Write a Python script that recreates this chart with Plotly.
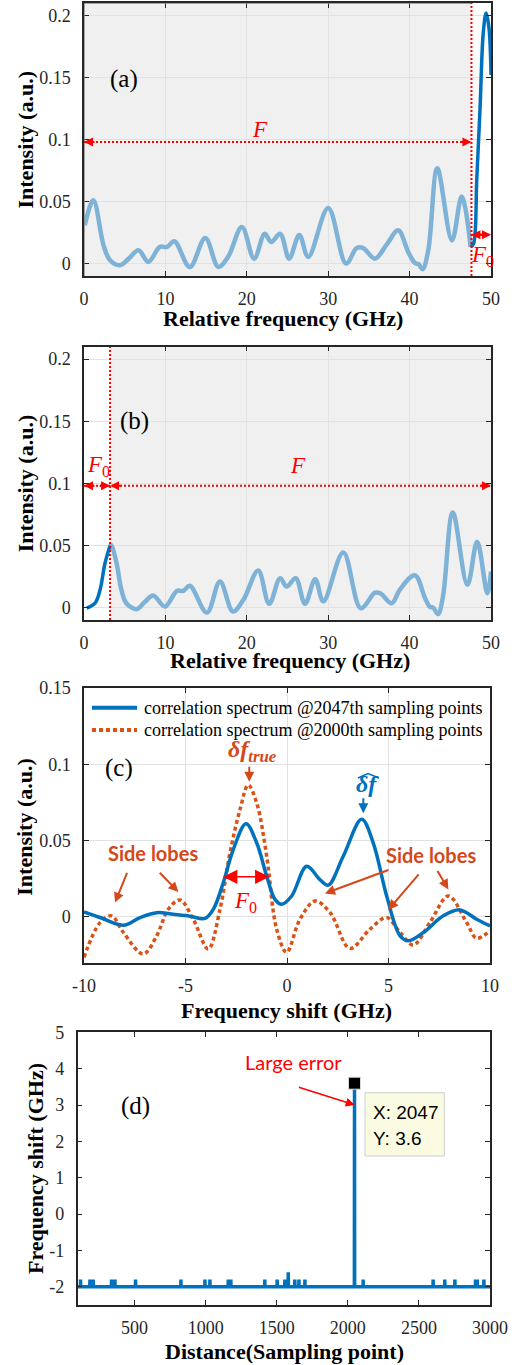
import plotly.graph_objects as go

W, H = 522, 1365

# ---------------- Data ----------------
# Panel (a)
a_light_x = [0.1, 1.15, 2.4, 3.2, 4.4, 5.5, 6.7, 7.9, 9.3, 10.2, 11.1, 13.0, 14.9, 16.5, 17.7, 19.4,
             20.9, 22.2, 23.0, 24.1, 25.2, 26.45, 27.55, 30.0, 32.2, 33.5, 34.3, 35.75, 37.2, 38.6,
             39.85, 40.65, 41.1, 41.6, 42.3, 43.4, 45.2, 46.4, 47.5]
a_light_y = [0.031, 0.051, 0.0147, 0.0027, -0.0013, 0.004, 0.0107, 0.0013, 0.0134, 0.0134, 0.018,
             -0.0027, 0.0206, -0.0027, 0.0054, 0.0295, 0.004, 0.024, 0.0174, 0.024, 0.004, 0.023,
             0.0054, 0.0447, 0.0, 0.0125, 0.0125, 0.004, 0.0155, 0.0268, 0.009, 0.0005, -0.0005,
             -0.0045, 0.011, 0.0768, 0.0187, 0.054, 0.0134]
a_dark_x = [47.5, 47.85, 48.25, 48.65, 49.05, 49.4, 49.75, 50.0]
a_dark_y = [0.0135, 0.016, 0.068, 0.1245, 0.186, 0.202, 0.19, 0.152]
a_split = 47.6

# Panel (b)
b_dark_x = [0.33, 1.35, 1.97, 2.58, 3.2]
b_dark_y = [-0.0005, 0.0035, 0.0142, 0.0357, 0.0500]
b_light_x = [3.2, 3.35, 4.0, 4.6, 5.2, 6.46, 7.4, 8.5, 9.95, 11.4, 12.2, 13.0, 15.1, 16.7, 18.3, 19.6,
             21.4, 22.75, 24.1, 24.9, 26.0, 27.15, 28.4, 29.4, 31.85, 34.0, 35.75, 36.4, 37.8, 38.8,
             40.65, 41.9, 42.5, 42.9, 43.5, 44.1, 45.3, 47.1, 48.3, 49.55, 50.0]
b_light_y = [0.0497, 0.0505, 0.0357, 0.0142, 0.0035, -0.0013, 0.004, 0.0097, 0.0008, 0.0134, 0.0134,
             0.0175, -0.004, 0.021, -0.0032, 0.0065, 0.0298, 0.003, 0.0237, 0.0169, 0.0237, 0.003,
             0.0228, 0.005, 0.0443, -0.0005, 0.012, 0.0115, 0.0035, 0.0145, 0.026, 0.0075, 0.0005,
             0.0, -0.0053, 0.0088, 0.0765, 0.0183, 0.053, 0.0116, 0.029]
b_split = 3.2

# Panel (c)
c_blue_x = [-10.0, -9.21, -8.06, -7.24, -6.42, -5.6, -4.78, -4.04, -3.63, -3.14, -2.65, -2.02, -1.49,
            -1.0, -0.59, -0.26, 0.23, 0.97, 1.62, 2.03, 2.77, 3.68, 4.25, 4.91, 5.57, 5.98, 6.72, 7.7,
            8.52, 9.34, 10.0]
c_blue_y = [0.0033, -0.0004, -0.0054, -0.0004, 0.0028, 0.0017, 0.0005, -0.001, 0.005, 0.0224, 0.044,
            0.061, 0.0484, 0.0267, 0.0115, 0.0083, 0.0137, 0.0332, 0.0245, 0.0208, 0.0397, 0.064,
            0.0484, 0.0137, -0.0124, -0.0156, -0.0102, 0.0007, 0.0046, -0.0015, -0.0059]
c_orange_x = [-10.0, -9.21, -8.64, -8.06, -7.08, -6.42, -5.85, -5.27, -4.62, -3.88, -3.3, -2.81, -2.32,
              -1.91, -1.49, -1.0, -0.51, -0.02, 0.64, 1.38, 2.12, 3.1, 4.09, 4.91, 5.57, 6.22, 7.04,
              7.95, 8.85, 9.34, 10.0]
c_orange_y = [-0.0265, -0.0037, 0.0007, -0.0102, -0.0243, -0.0124, 0.005, 0.0111, -0.0015, -0.021,
              0.005, 0.042, 0.07, 0.0864, 0.0745, 0.0397, -0.008, -0.0232, -0.0015, 0.0104, 0.0029,
              -0.0206, -0.008, -0.0004, -0.0102, -0.0184, -0.0037, 0.0137, -0.0037, -0.014, -0.009]
c_legend = ["correlation spectrum @2047th sampling points",
            "correlation spectrum @2000th sampling points"]

# Panel (d)
d_start, d_end = 100, 3000
d_base = -2.0
d_blip_x = [120, 186, 209, 338, 362, 507, 826, 995, 1030, 1159, 1177, 1416, 1503, 1557, 1581,
            1627, 1656, 1698, 2108, 2600, 2682, 2753, 2898, 2910, 2957]
d_blip_y = [-1.8, -1.8, -1.8, -1.8, -1.8, -1.8, -1.8, -1.8, -1.8, -1.8, -1.8, -1.8, -1.8, -1.8, -1.6,
            -1.8, -1.8, -1.8, -1.8, -1.8, -1.8, -1.8, -1.8, -1.8, -1.8]
d_spike_x = 2047
d_spike_y = 3.6

# ---------------- Styles ----------------
LIGHT = "#7EB2D6"
DARK = "#0072BD"
ORANGE = "#D95319"
ANN = "#D4481A"
RED = "#ff0000"
SERIF = "Liberation Serif"
SANS = "Lato"


def px(x):
    return x / W


def py(y):
    return 1 - y / H


fig = go.Figure()

# (a)
fig.add_trace(go.Scatter(x=a_light_x, y=a_light_y, mode="lines", xaxis="x", yaxis="y",
                         line=dict(color=LIGHT, width=4.5, shape="spline"), showlegend=False))
fig.add_trace(go.Scatter(x=a_dark_x, y=a_dark_y, mode="lines", xaxis="x", yaxis="y",
                         line=dict(color=DARK, width=3.5, shape="spline"), showlegend=False))
# (b)
fig.add_trace(go.Scatter(x=b_light_x, y=b_light_y, mode="lines", xaxis="x2", yaxis="y2",
                         line=dict(color=LIGHT, width=4.5, shape="spline"), showlegend=False))
fig.add_trace(go.Scatter(x=b_dark_x, y=b_dark_y, mode="lines", xaxis="x2", yaxis="y2",
                         line=dict(color=DARK, width=3.5, shape="spline"), showlegend=False))
# (c)
fig.add_trace(go.Scatter(x=c_orange_x, y=c_orange_y, mode="lines", xaxis="x3", yaxis="y3",
                         line=dict(color=ORANGE, width=3.5, shape="spline", dash="4px,3px"),
                         name=c_legend[1], showlegend=False))
fig.add_trace(go.Scatter(x=c_blue_x, y=c_blue_y, mode="lines", xaxis="x3", yaxis="y3",
                         line=dict(color=DARK, width=3.5, shape="spline"),
                         name=c_legend[0], showlegend=False))
# (d)
dx = [d_start]
dy = [d_base]
events = sorted(list(zip(d_blip_x, d_blip_y)) + [(d_spike_x, d_spike_y)])
for bx, by in events:
    dx += [bx - 1, bx, bx + 1]
    dy += [d_base, by, d_base]
dx.append(d_end)
dy.append(d_base)
fig.add_trace(go.Scatter(x=dx, y=dy, mode="lines", xaxis="x4", yaxis="y4",
                         line=dict(color=DARK, width=3.5), showlegend=False))
fig.add_trace(go.Scatter(x=[d_spike_x], y=[d_spike_y], mode="markers", xaxis="x4", yaxis="y4",
                         marker=dict(symbol="square", size=12, color="black",
                                     line=dict(color="#d8d8d8", width=1)), showlegend=False))

axis_common = dict(showline=True, linecolor="#262626", linewidth=1.5, mirror="allticks",
                   ticks="inside", ticklen=5, tickwidth=1.3, tickcolor="#262626",
                   tickfont=dict(family=SERIF, size=18, color="#262626"),
                   zeroline=False, gridcolor="#e2e2e2", gridwidth=1, automargin=False)

dom_x = [px(84), px(491)]
fig.update_layout(
    width=W, height=H, autosize=False,
    margin=dict(l=0, r=0, t=0, b=0, pad=0),
    paper_bgcolor="white", plot_bgcolor="white",
    xaxis=dict(domain=dom_x, range=[0, 50], anchor="y", tickvals=[0, 10, 20, 30, 40, 50],
               showgrid=True, ticklabelstandoff=6, **axis_common),
    yaxis=dict(domain=[py(276), py(3)], range=[-0.01, 0.21], anchor="x",
               tickvals=[0, 0.05, 0.1, 0.15, 0.2], ticktext=["0", "0.05", "0.1", "0.15", "0.2"],
               showgrid=True, ticklabelstandoff=8, **axis_common),
    xaxis2=dict(domain=dom_x, range=[0, 50], anchor="y2", tickvals=[0, 10, 20, 30, 40, 50],
                showgrid=True, ticklabelstandoff=6, **axis_common),
    yaxis2=dict(domain=[py(620), py(346.7)], range=[-0.01, 0.21], anchor="x2",
                tickvals=[0, 0.05, 0.1, 0.15, 0.2], ticktext=["0", "0.05", "0.1", "0.15", "0.2"],
                showgrid=True, ticklabelstandoff=8, **axis_common),
    xaxis3=dict(domain=[px(84), px(490)], range=[-10, 10], anchor="y3",
                tickvals=[-10, -5, 0, 5, 10], ticktext=["-10", "-5", "0", "5", "10"],
                showgrid=True, ticklabelstandoff=6, **axis_common),
    yaxis3=dict(domain=[py(962.7), py(688)], range=[-0.03, 0.15], anchor="x3",
                tickvals=[0, 0.05, 0.1, 0.15], ticktext=["0", "0.05", "0.1", "0.15"],
                showgrid=True, ticklabelstandoff=8, **axis_common),
    xaxis4=dict(domain=[px(77.7), px(490)], range=[d_start, d_end], anchor="y4",
                tickvals=[500, 1000, 1500, 2000, 2500, 3000],
                showgrid=False, ticklabelstandoff=6, **axis_common),
    yaxis4=dict(domain=[py(1305), py(1032.3)], range=[-2.5, 5], anchor="x4",
                tickvals=[-2, -1, 0, 1, 2, 3, 4, 5],
                ticktext=["-2", "-1", "0", "1", "2", "3", "4", "5"],
                showgrid=False, ticklabelstandoff=8, **axis_common),
)

shapes = []
anns = []

# shaded regions
shapes.append(dict(type="rect", xref="x", yref="y", x0=0, x1=a_split, y0=-0.01, y1=0.21,
                   fillcolor="#f0f0f0", line=dict(width=0), layer="below"))
shapes.append(dict(type="rect", xref="x2", yref="y2", x0=b_split, x1=50, y0=-0.01, y1=0.21,
                   fillcolor="#f0f0f0", line=dict(width=0), layer="below"))
# gray edges of the shaded patch in (a)
shapes.append(dict(type="line", xref="x", yref="y", x0=0, x1=0, y0=-0.01, y1=0.21,
                   line=dict(color="#8a8a8a", width=1.5), layer="above"))
shapes.append(dict(type="line", xref="x", yref="y", x0=0, x1=a_split, y0=0.21, y1=0.21,
                   line=dict(color="#8a8a8a", width=1.5), layer="above"))

dotted = dict(color=RED, width=2, dash="2px,2px")
# (a) red dotted lines
shapes.append(dict(type="line", xref="x", yref="y", x0=a_split, x1=a_split, y0=-0.01, y1=0.21,
                   line=dotted, layer="above"))
shapes.append(dict(type="line", xref="x", yref="y", x0=0, x1=a_split, y0=0.098, y1=0.098,
                   line=dotted, layer="above"))
shapes.append(dict(type="line", xref="x", yref="y", x0=a_split, x1=50, y0=0.0233, y1=0.0233,
                   line=dotted, layer="above"))
# (b) red dotted lines
shapes.append(dict(type="line", xref="x2", yref="y2", x0=b_split, x1=b_split, y0=-0.01, y1=0.21,
                   line=dotted, layer="above"))
shapes.append(dict(type="line", xref="x2", yref="y2", x0=0, x1=50, y0=0.098, y1=0.098,
                   line=dotted, layer="above"))


def head(xr, yr, x, y, direction):
    anns.append(dict(xref=xr, yref=yr, x=x, y=y, ax=-12 * direction, ay=0, text="",
                     showarrow=True, arrowhead=2, arrowsize=0.9, arrowwidth=2, arrowcolor=RED))


head("x", "y", 0, 0.098, -1)
head("x", "y", a_split, 0.098, 1)
head("x", "y", a_split, 0.0233, -1)
head("x", "y", 50, 0.0233, 1)
head("x2", "y2", 0, 0.098, -1)
head("x2", "y2", b_split, 0.098, 1)
head("x2", "y2", b_split, 0.098, -1)
head("x2", "y2", 50, 0.098, 1)


def text(x, y, t, size, color="black", family=SERIF, xanchor="center", angle=0):
    anns.append(dict(xref="paper", yref="paper", x=px(x), y=py(y), text=t, showarrow=False,
                     xanchor=xanchor, yanchor="middle", textangle=angle,
                     font=dict(family=family, size=size, color=color)))


# panel labels
text(124, 79, "(a)", 25)
text(134, 421, "(b)", 25)
text(119, 768, "(c)", 25)
text(135, 1106, "(d)", 25)

# F labels
text(260, 129, "<i>F</i>", 23, RED)
text(482, 256, "<i>F</i><sub>0</sub>", 23, RED)
text(298, 465, "<i>F</i>", 23, RED)
text(98, 466, "<i>F</i><sub>0</sub>", 23, RED)
text(245, 902, "<i>F</i><sub>0</sub>", 23, RED)

# axis titles
text(25, 139.5, "<b>Intensity (a.u.)</b>", 22, angle=-90)
text(282.7, 318.3, "<b>Relative frequency (GHz)</b>", 22)
text(25, 483.3, "<b>Intensity (a.u.)</b>", 22, angle=-90)
text(290, 660, "<b>Relative frequency (GHz)</b>", 22)
text(25, 826.7, "<b>Intensity (a.u.)</b>", 22, angle=-90)
text(286.7, 1010, "<b>Frequency shift (GHz)</b>", 22)
text(35, 1169, "<b>Frequency shift (GHz)</b>", 22, angle=-90)
text(284.2, 1351.7, "<b>Distance(Sampling point)</b>", 22)

# legend (c)
shapes.append(dict(type="line", xref="paper", yref="paper", x0=px(92), x1=px(137),
                   y0=py(707.7), y1=py(707.7), line=dict(color=DARK, width=4)))
shapes.append(dict(type="line", xref="paper", yref="paper", x0=px(92), x1=px(137),
                   y0=py(730), y1=py(730), line=dict(color=ORANGE, width=4, dash="4px,3px")))
text(141.7, 707.7, c_legend[0], 18, "black", SERIF, "left")
text(141.7, 730, c_legend[1], 18, "black", SERIF, "left")

# delta f annotations (c)
text(252, 751, "<b><i>δf</i></b><sub><b><i>true</i></b></sub>", 24, ANN)
text(367, 784, "<b><i>δf</i></b>", 24, DARK)
shapes.append(dict(type="path", xref="paper", yref="paper",
                   path="M %f,%f L %f,%f L %f,%f" % (px(358), py(778), px(368), py(773.5),
                                                     px(379), py(778)),
                   line=dict(color=DARK, width=1.5)))


def arrow(xr, yr, x, y, axv, ayv, color, width=2, size=1.0, side="end"):
    anns.append(dict(xref=xr, yref=yr, axref=xr, ayref=yr, x=x, y=y, ax=axv, ay=ayv, text="",
                     showarrow=True, arrowhead=2, arrowsize=size, arrowwidth=width,
                     arrowcolor=color, arrowside=side))


arrow("x3", "y3", -1.86, 0.0885, -1.86, 0.0994, ANN)
arrow("x3", "y3", 3.76, 0.068, 3.76, 0.0788, DARK)
# side lobes
text(152.5, 853.3, "<b>Side lobes</b>", 20, ANN, SANS)
text(431.3, 855, "<b>Side lobes</b>", 20, ANN, SANS)
arrow("x3", "y3", -8.47, 0.0094, -7.85, 0.0299, ANN)
arrow("x3", "y3", -5.35, 0.0163, -6.34, 0.0299, ANN)
arrow("x3", "y3", 1.87, 0.0154, 5.07, 0.0311, ANN)
arrow("x3", "y3", 4.99, 0.0046, 6.55, 0.0289, ANN)
arrow("x3", "y3", 7.95, 0.018, 7.37, 0.0311, ANN)
# F0 double arrow
arrow("x3", "y3", -0.87, 0.0263, -3.22, 0.0263, RED, width=1.5, size=1.9, side="end+start")

# (d) annotations
text(293.3, 1061.7, "Large error", 20, RED, SANS)
arrow("x4", "y4", 2049, 3.0, 1645, 3.5, RED, width=1.5, size=1.2)
shapes.append(dict(type="rect", xref="paper", yref="paper", x0=px(365), x1=px(444.3),
                   y0=py(1156), y1=py(1092.7), fillcolor="#fbfbe2",
                   line=dict(color="#cfcfcf", width=1)))
text(371, 1112.7, "X: 2047", 19, "black", "Liberation Sans", "left")
text(371, 1138.3, "Y: 3.6", 19, "black", "Liberation Sans", "left")

fig.update_layout(shapes=shapes, annotations=anns)
fig.write_html("out.html")
